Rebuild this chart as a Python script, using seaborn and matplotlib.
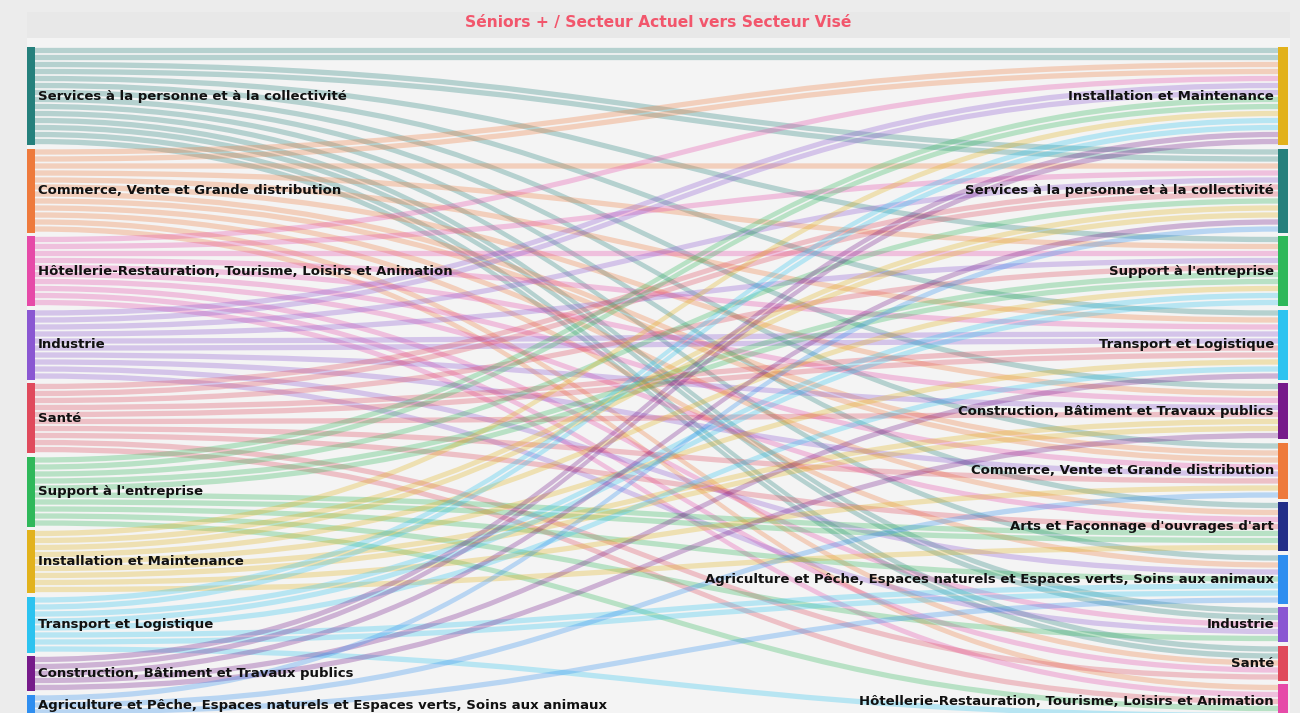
import matplotlib
matplotlib.use("Agg")
import matplotlib.pyplot as plt
from matplotlib.path import Path
from matplotlib.patches import PathPatch, Rectangle
import seaborn as sns

# --- data ---------------------------------------------------------------
title = "Séniors + / Secteur Actuel vers Secteur Visé"

sources = [
    "Services à la personne et à la collectivité",
    "Commerce, Vente et Grande distribution",
    "Hôtellerie-Restauration, Tourisme, Loisirs et Animation",
    "Industrie",
    "Santé",
    "Support à l'entreprise",
    "Installation et Maintenance",
    "Transport et Logistique",
    "Construction, Bâtiment et Travaux publics",
    "Agriculture et Pêche, Espaces naturels et Espaces verts, Soins aux animaux",
]

targets = [
    "Installation et Maintenance",
    "Services à la personne et à la collectivité",
    "Support à l'entreprise",
    "Transport et Logistique",
    "Construction, Bâtiment et Travaux publics",
    "Commerce, Vente et Grande distribution",
    "Arts et Façonnage d'ouvrages d'art",
    "Agriculture et Pêche, Espaces naturels et Espaces verts, Soins aux animaux",
    "Industrie",
    "Santé",
    "Hôtellerie-Restauration, Tourisme, Loisirs et Animation",
]

# number of people: one row per current sector, one column per target sector
flows = [
    [2, 2, 1, 1, 1, 1, 1, 1, 2, 2, 0],
    [2, 1, 1, 1, 1, 2, 1, 1, 0, 1, 1],
    [1, 1, 1, 1, 1, 1, 1, 0, 1, 1, 1],
    [2, 1, 1, 2, 1, 1, 0, 1, 1, 0, 0],
    [0, 2, 1, 2, 1, 1, 1, 0, 0, 1, 1],
    [2, 1, 2, 0, 0, 0, 2, 1, 1, 0, 1],
    [1, 2, 1, 1, 2, 1, 1, 0, 0, 0, 0],
    [2, 0, 2, 1, 0, 0, 0, 2, 0, 0, 1],
    [2, 1, 0, 1, 1, 0, 0, 0, 0, 0, 0],
    [0, 1, 0, 0, 0, 1, 0, 1, 0, 0, 0],
]

sector_colors = {
    "Services à la personne et à la collectivité": "#25807c",
    "Commerce, Vente et Grande distribution": "#ee7a3c",
    "Hôtellerie-Restauration, Tourisme, Loisirs et Animation": "#e64aa8",
    "Industrie": "#8a57d2",
    "Santé": "#e04a5c",
    "Support à l'entreprise": "#2fb85a",
    "Installation et Maintenance": "#e2b21c",
    "Transport et Logistique": "#2cc3f0",
    "Construction, Bâtiment et Travaux publics": "#761a8a",
    "Agriculture et Pêche, Espaces naturels et Espaces verts, Soins aux animaux": "#2f8ef0",
    "Arts et Façonnage d'ouvrages d'art": "#232f88",
}

# --- layout -------------------------------------------------------------
sns.set_theme(style="white")
plt.rcParams["font.family"] = ["DejaVu Sans"]

W, H = 1300, 713
fig = plt.figure(figsize=(W / 100, H / 100), dpi=100, facecolor="#ececec")

panel_l, panel_r = 27, 1290
band_top, band_bot = 12, 38
unit = 7.0          # pixels per person
gap = 0.5           # gap between nodes, in persons
y_start = 47        # pixel row of the first node

# title band
ax_t = fig.add_axes([panel_l / W, 1 - band_bot / H, (panel_r - panel_l) / W, (band_bot - band_top) / H])
ax_t.set_facecolor("#e8e8e8")
ax_t.set_xticks([])
ax_t.set_yticks([])
for s in ax_t.spines.values():
    s.set_visible(False)
ax_t.text(0.5, 0.6, title, ha="center", va="center", color="#f2566c",
          fontsize=11.2, fontweight="bold", transform=ax_t.transAxes)

# main panel
ax = fig.add_axes([panel_l / W, 0, (panel_r - panel_l) / W, 1 - band_bot / H])
ax.set_facecolor("#f4f4f4")
ax.set_xticks([])
ax.set_yticks([])
for s in ax.spines.values():
    s.set_visible(False)
ax.set_xlim(0, panel_r - panel_l)
ax.set_ylim((H - y_start) / unit, (band_bot - y_start) / unit)

x_left0, x_left1 = 0, 8
x_right0, x_right1 = 1251, 1261

# node positions
src_tot = [sum(r) for r in flows]
tgt_tot = [sum(flows[i][j] for i in range(len(sources))) for j in range(len(targets))]

src_top, y = [], 0.0
for v in src_tot:
    src_top.append(y)
    y += v + gap
tgt_top, y = [], 0.0
for v in tgt_tot:
    tgt_top.append(y)
    y += v + gap

# strands (one per person)
src_off = list(src_top)
strands = []
for i in range(len(sources)):
    for j in range(len(targets)):
        for _ in range(flows[i][j]):
            strands.append([i, j, src_off[i], None])
            src_off[i] += 1
for j in range(len(targets)):
    y = tgt_top[j]
    for s in strands:
        if s[1] == j:
            s[3] = y
            y += 1

xm = (x_left1 + x_right0) / 2
th, pad = 0.76, 0.12
for i, j, ys, yt in strands:
    a, b = ys + pad, yt + pad
    verts = [(x_left1, a), (xm, a), (xm, b), (x_right0, b),
             (x_right0, b + th), (xm, b + th), (xm, a + th), (x_left1, a + th), (x_left1, a)]
    codes = [Path.MOVETO, Path.CURVE4, Path.CURVE4, Path.CURVE4,
             Path.LINETO, Path.CURVE4, Path.CURVE4, Path.CURVE4, Path.CLOSEPOLY]
    ax.add_patch(PathPatch(Path(verts, codes), facecolor=sector_colors[sources[i]],
                           edgecolor="none", alpha=0.3))

# node bars and labels
lab_size = 9.5
for k, name in enumerate(sources):
    ax.add_patch(Rectangle((x_left0, src_top[k]), x_left1 - x_left0, src_tot[k],
                           facecolor=sector_colors[name], edgecolor="none"))
    ax.text(x_left1 + 3, src_top[k] + src_tot[k] / 2, name, ha="left", va="center",
            fontsize=lab_size, fontweight="bold", color="#111111")
for k, name in enumerate(targets):
    ax.add_patch(Rectangle((x_right0, tgt_top[k]), x_right1 - x_right0, tgt_tot[k],
                           facecolor=sector_colors[name], edgecolor="none"))
    ax.text(x_right0 - 4, tgt_top[k] + tgt_tot[k] / 2, name, ha="right", va="center",
            fontsize=lab_size, fontweight="bold", color="#111111")

fig.savefig("out.png", dpi=100, facecolor=fig.get_facecolor())
